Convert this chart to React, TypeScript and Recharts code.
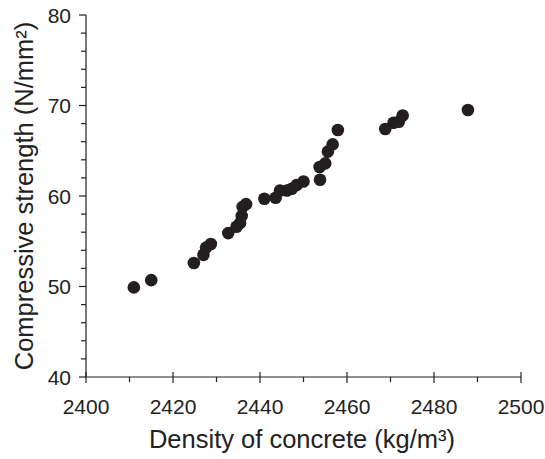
import { ScatterChart, Scatter, XAxis, YAxis } from 'recharts'

// density (kg/m3) and compressive strength (N/mm2)
const density = [
  2411, 2415, 2424.8, 2427, 2427.6, 2428.7, 2432.7, 2434.6, 2435.4, 2435.8,
  2436, 2436.8, 2441, 2443.6, 2444.6, 2446.2, 2447.3, 2448.4, 2450, 2453.8,
  2453.7, 2455, 2455.6, 2456.7, 2457.9, 2468.8, 2470.7, 2471.9, 2472.8, 2487.8,
]
const strength = [
  49.9, 50.7, 52.6, 53.5, 54.3, 54.7, 55.9, 56.6, 57.0, 57.8,
  58.8, 59.1, 59.7, 59.8, 60.6, 60.6, 60.8, 61.2, 61.6, 61.8,
  63.2, 63.6, 64.9, 65.7, 67.3, 67.4, 68.1, 68.2, 68.9, 69.5,
]

const xTicks = [2400, 2410, 2420, 2430, 2440, 2450, 2460, 2470, 2480, 2490, 2500]
const yTicks = [40, 42, 44, 46, 48, 50, 52, 54, 56, 58, 60, 62, 64, 66, 68, 70, 72, 74, 76, 78, 80]

const data = density.map((d, i) => ({ density: d, strength: strength[i] }))

const INK = '#231f20'
const FONT = '"Liberation Sans", Arial, Helvetica, sans-serif'

function XTick({ x, y, payload }: any) {
  const major = payload.value % 20 === 0
  if (!major) return <line x1={x} x2={x} y1={y} y2={y + 5} stroke={INK} strokeWidth={1.2} />
  return (
    <g>
      <line x1={x} x2={x} y1={y - 5} y2={y + 6} stroke={INK} strokeWidth={1.2} />
      <text x={x} y={y + 37} textAnchor="middle" fontSize={21} fill="#222" fontFamily={FONT}>
        {payload.value}
      </text>
    </g>
  )
}

function YTick({ x, y, payload }: any) {
  const major = payload.value % 10 === 0
  if (!major) return <line x1={x - 5} x2={x} y1={y} y2={y} stroke={INK} strokeWidth={1.2} />
  return (
    <g>
      <line x1={x - 7} x2={x} y1={y} y2={y} stroke={INK} strokeWidth={1.2} />
      <text x={x - 15} y={y + 7.5} textAnchor="end" fontSize={21} fill="#222" fontFamily={FONT}>
        {payload.value}
      </text>
    </g>
  )
}

export default function App() {
  return (
    <div style={{ position: 'absolute', left: 0, top: 0 }}>
      <ScatterChart width={545} height={459} margin={{ top: 15, right: 24, bottom: 0, left: 0 }}>
        <XAxis
          type="number"
          dataKey="density"
          domain={[2400, 2500]}
          ticks={xTicks}
          interval={0}
          tickSize={0}
          tickMargin={0}
          tickLine={false}
          tick={<XTick />}
          height={82}
          axisLine={{ stroke: INK, strokeWidth: 1.2 }}
          label={{
            content: () => (
              <text x={302} y={448} textAnchor="middle" fontSize={25.5} fill="#222" fontFamily={FONT}>
                Density of concrete (kg/m³)
              </text>
            ),
          }}
        />
        <YAxis
          type="number"
          dataKey="strength"
          domain={[40, 80]}
          ticks={yTicks}
          interval={0}
          tickSize={0}
          tickMargin={0}
          tickLine={false}
          tick={<YTick />}
          width={86}
          axisLine={{ stroke: INK, strokeWidth: 1.2 }}
          label={{
            content: () => (
              <text
                x={0}
                y={0}
                transform="translate(33,196) rotate(-90)"
                textAnchor="middle"
                fontSize={25.5}
                fill="#222"
                fontFamily={FONT}
              >
                Compressive strength (N/mm²)
              </text>
            ),
          }}
        />
        <Scatter
          data={data}
          isAnimationActive={false}
          shape={(p: any) => <circle cx={p.cx} cy={p.cy} r={6.3} fill={INK} />}
        />
      </ScatterChart>
    </div>
  )
}
